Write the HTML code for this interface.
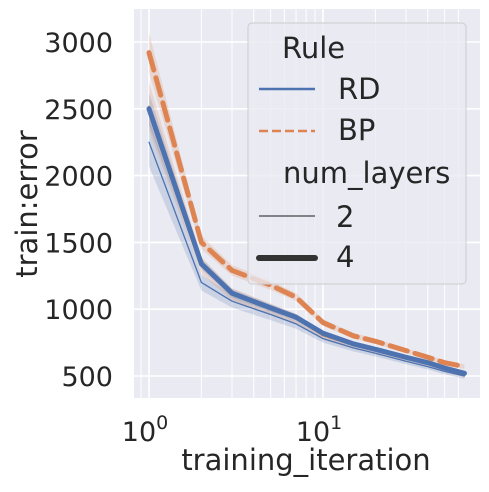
<!DOCTYPE html>
<html><head><meta charset="utf-8"><style>
html,body{margin:0;padding:0;background:#fff;}
svg{display:block;font-family:"DejaVu Sans","Liberation Sans",sans-serif;}
</style></head><body>
<svg id="chart" width="489" height="492" viewBox="0 0 489 492" xmlns="http://www.w3.org/2000/svg">
<rect x="134" y="9" width="346" height="389" fill="#eaeaf2"/>
<g id="grid"></g>
<g id="bands"></g>
<g id="lines"></g>
<g id="yticks" font-size="27" fill="#262626" text-anchor="end"></g>
<g id="xticks" font-size="27" fill="#262626" text-anchor="middle"></g>
<text x="0" y="0" transform="translate(37,204) rotate(-90)" font-size="29" fill="#262626" text-anchor="middle">train:error</text>
<text x="306" y="470" font-size="29" fill="#262626" text-anchor="middle">training_iteration</text>
<g>
<rect x="248" y="23" width="218" height="261" rx="4" fill="#eaeaf2" fill-opacity="0.8" stroke="#cccccc" stroke-width="1"/>
<text x="282" y="58" font-size="29" fill="#262626">Rule</text>
<line x1="259" y1="89" x2="315" y2="89" stroke="#4c72b0" stroke-width="2.5"/>
<text x="338" y="99" font-size="29" fill="#262626">RD</text>
<line x1="259" y1="131" x2="315" y2="131" stroke="#dd8452" stroke-width="2.5" stroke-dasharray="9,4"/>
<text x="338" y="140" font-size="29" fill="#262626">BP</text>
<text x="283" y="183" font-size="29" fill="#262626">num_layers</text>
<line x1="259" y1="216" x2="315" y2="216" stroke="#444" stroke-width="1.2"/>
<text x="336" y="227" font-size="29" fill="#262626">2</text>
<line x1="259" y1="258" x2="315" y2="258" stroke="#333" stroke-width="6" stroke-linecap="round"/>
<text x="336" y="267" font-size="29" fill="#262626">4</text>
</g>
</svg>
<script>
const iterations = [1, 2, 3, 5, 7, 10, 15, 20, 30, 40, 50, 65];
const rd4 = [2500, 1340, 1120, 1010, 940, 820, 740, 700, 640, 600, 560, 520];
const rd2 = [2250, 1200, 1060, 960, 890, 780, 710, 670, 610, 570, 535, 500];
const bp4 = [2920, 1500, 1290, 1180, 1090, 900, 800, 760, 690, 640, 600, 570];
const bp2 = [2520, 1330, 1110, 1000, 930, 800, 730, 690, 630, 590, 550, 510];
const spread = [150, 50, 40, 35, 30, 25, 22, 20, 18, 18, 18, 18];
const yTicks = [500, 1000, 1500, 2000, 2500, 3000];
const xMajor = [1, 10];
const xMinor = [0.9, 2, 3, 4, 5, 6, 7, 8, 9, 20, 30, 40, 50, 60];

const X0 = 149, DEC = 174, Y0 = 376, YS = 0.1336;
const xs = v => X0 + Math.log10(v) * DEC;
const ys = v => Y0 - (v - 500) * YS;
const NS = "http://www.w3.org/2000/svg";
function mk(tag, parent, attrs) {
  const e = document.createElementNS(NS, tag);
  for (const k in attrs) e.setAttribute(k, attrs[k]);
  document.getElementById(parent).appendChild(e);
  return e;
}
xMinor.forEach(v => {
  const l = mk('line', 'grid', {x1: xs(v), x2: xs(v), y1: 9, y2: 398, stroke: '#fff', 'stroke-width': 1});
  
  
});
xMajor.forEach(v => {
  const l = mk('line', 'grid', {x1: xs(v), x2: xs(v), y1: 9, y2: 398, stroke: '#fff', 'stroke-width': 1.6});
  
  
  const t = mk('text', 'xticks', {x: xs(v) - 4, y: 441});
  
  
  t.textContent = '10';
  const s = mk('tspan', 'xticks', {});
  t.appendChild(s);
  s.setAttribute('dy', '-12'); s.setAttribute('font-size', '19');
  s.textContent = String(Math.round(Math.log10(v)));
});
yTicks.forEach(v => {
  const l = mk('line', 'grid', {x1: 134, x2: 480, y1: ys(v), y2: ys(v), stroke: '#fff', 'stroke-width': 1.6});
  
  
  const t = mk('text', 'yticks', {x: 113, y: ys(v) + 10});
  
  
  t.textContent = v;
});
const series = [
  {name: 'rd-2', d: rd2, c: '#4c72b0', w: 1.3, dash: '', k: 1.2},
  {name: 'bp-2', d: bp2, c: '#dd8452', w: 1.3, dash: '5,2', k: 1.2},
  {name: 'rd-4', d: rd4, c: '#4c72b0', w: 5, dash: '', k: 0.8},
  {name: 'bp-4', d: bp4, c: '#dd8452', w: 5, dash: '18,8', k: 1.0}
];
series.forEach(s => {
  const up = iterations.map((v, i) => xs(v) + ',' + ys(s.d[i] + spread[i] * s.k));
  const dn = iterations.map((v, i) => xs(v) + ',' + ys(s.d[i] - spread[i] * s.k)).reverse();
  const b = mk('polygon', 'bands', {points: up.concat(dn).join(' '), fill: s.c, 'fill-opacity': 0.2});
  
  
});
series.forEach(s => {
  const pts = iterations.map((v, i) => xs(v) + ',' + ys(s.d[i])).join(' ');
  const l = mk('polyline', 'lines', {points: pts, fill: 'none', stroke: s.c, 'stroke-width': s.w, 'stroke-dasharray': s.dash, 'stroke-linejoin': 'round', 'stroke-linecap': 'round'});
  
  
});
</script>
</body></html>
